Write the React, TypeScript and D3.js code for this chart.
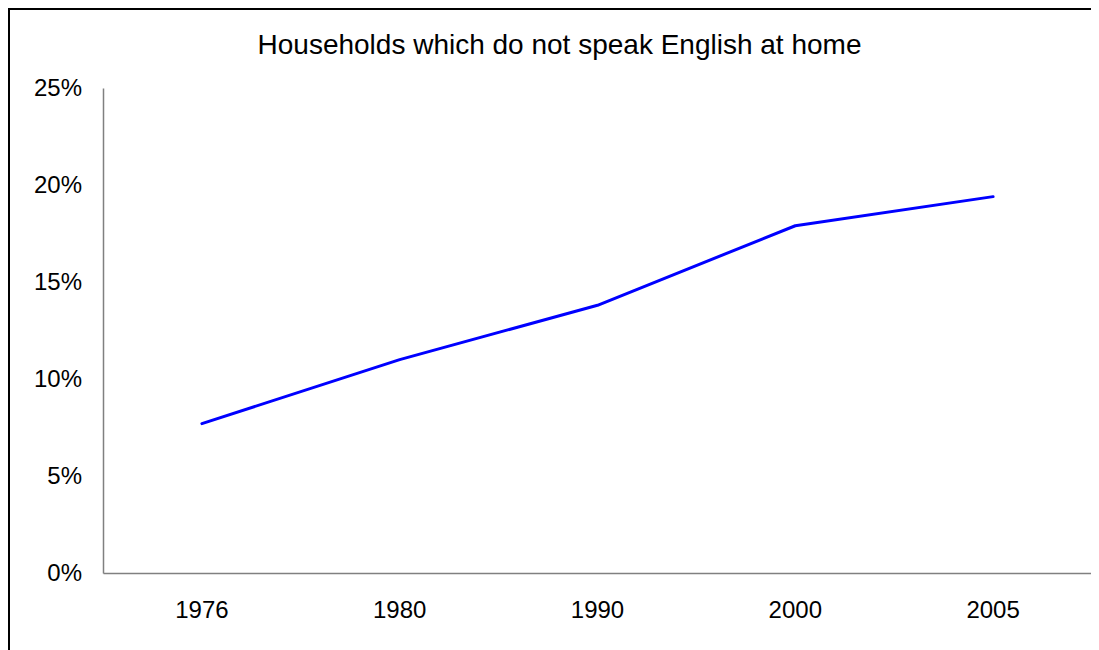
import * as React from 'react';
import * as d3 from 'd3';

const years: string[] = ['1976', '1980', '1990', '2000', '2005'];
const shares: number[] = [7.7, 11.0, 13.8, 17.9, 19.4];
const yTicks: number[] = [0, 5, 10, 15, 20, 25];
const title = 'Households which do not speak English at home';

type Point = { year: string, value: number };

const chartDim = {
    width: 1091,
    height: 642,
    left: 95,
    right: 1084,
    top: 80,
    bottom: 565,
};

const font = '"Liberation Sans", Arial, Helvetica, sans-serif';

export default function App() {
    const chartRef = React.useRef<SVGSVGElement>(null);

    React.useEffect(() => {
        document.body.style.overflow = 'hidden';
        const svg = d3.select(chartRef.current);
        svg.selectAll('*').remove();

        const data: Point[] = years.map((y, i) => ({ year: y, value: shares[i] }));

        // outer frame, right and bottom edges fall outside the window
        svg.append('path')
            .attr('d', `M1,${chartDim.height + 20} L1,1 L${chartDim.width + 20},1`)
            .attr('fill', 'none')
            .attr('stroke', '#000')
            .attr('stroke-width', 2);

        const xScale = d3.scaleBand<string>()
            .domain(years)
            .range([chartDim.left, chartDim.right]);

        const yScale = d3.scaleLinear()
            .domain([0, 25])
            .range([chartDim.bottom, chartDim.top]);

        const xAxis = d3.axisBottom(xScale).tickSize(0).tickPadding(28);
        svg.append('g')
            .attr('transform', `translate(0, ${chartDim.bottom})`)
            .call(xAxis)
            .call(g => g.select('.domain').attr('stroke', '#808080').attr('stroke-width', 1.5))
            .call(g => g.selectAll('.tick text')
                .attr('font-family', font)
                .attr('font-size', 24)
                .attr('fill', '#000'));

        const yAxis = d3.axisLeft(yScale)
            .tickValues(yTicks)
            .tickSize(0)
            .tickPadding(21)
            .tickFormat(d => `${d}%`);
        svg.append('g')
            .attr('transform', `translate(${chartDim.left}, 0)`)
            .call(yAxis)
            .call(g => g.select('.domain').attr('stroke', '#808080').attr('stroke-width', 1.5))
            .call(g => g.selectAll('.tick text')
                .attr('font-family', font)
                .attr('font-size', 24)
                .attr('fill', '#000'));

        const line = d3.line<Point>()
            .x(d => xScale(d.year)! + xScale.bandwidth() / 2)
            .y(d => yScale(d.value));

        svg.append('path')
            .datum(data)
            .attr('fill', 'none')
            .attr('stroke', '#0000ff')
            .attr('stroke-width', 3)
            .attr('stroke-linejoin', 'round')
            .attr('stroke-linecap', 'round')
            .attr('d', line(data)!);

        svg.append('text')
            .attr('x', 551.5)
            .attr('y', 46)
            .attr('text-anchor', 'middle')
            .attr('font-family', font)
            .attr('font-size', 28)
            .attr('fill', '#000')
            .text(title);
    }, []);

    return (
        <svg ref={chartRef} width={chartDim.width} height={chartDim.height}
            style={{ display: 'block', overflow: 'visible' }}>
        </svg>
    );
}
